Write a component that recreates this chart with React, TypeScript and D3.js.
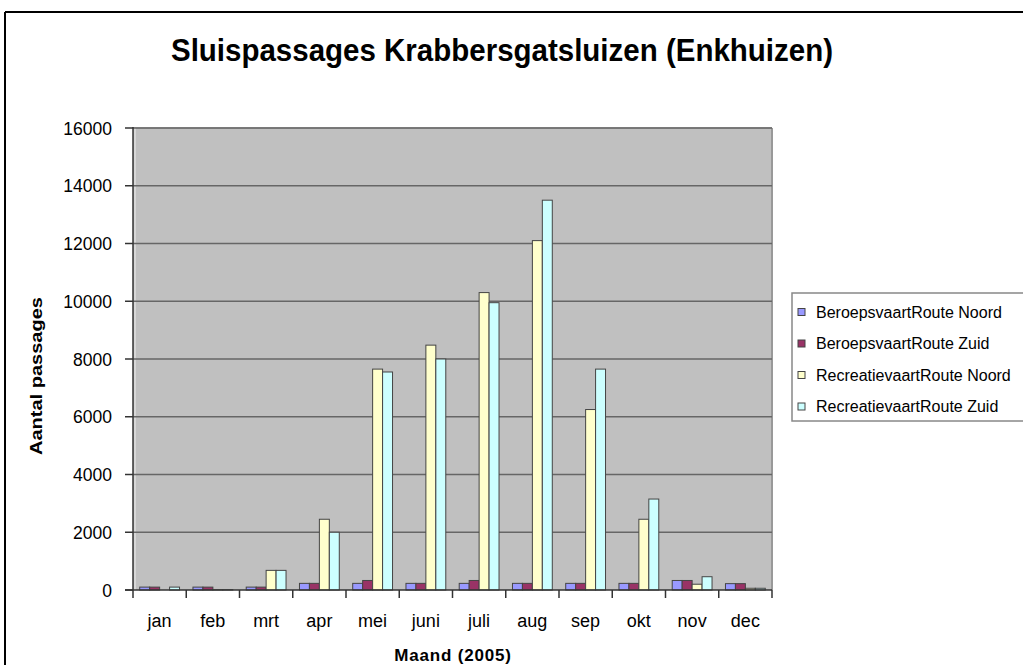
import React from "react";
import * as d3 from "d3";

const months = ["jan", "feb", "mrt", "apr", "mei", "juni", "juli", "aug", "sep", "okt", "nov", "dec"];
const seriesNames = [
  "BeroepsvaartRoute Noord",
  "BeroepsvaartRoute Zuid",
  "RecreatievaartRoute Noord",
  "RecreatievaartRoute Zuid",
];
const beroepsNoord = [100, 100, 100, 230, 230, 230, 230, 230, 230, 230, 330, 220];
const beroepsZuid = [100, 100, 100, 230, 330, 230, 330, 230, 230, 230, 330, 220];
const recreatieNoord = [0, 10, 680, 2450, 7650, 8480, 10300, 12100, 6250, 2450, 200, 60];
const recreatieZuid = [100, 10, 680, 2000, 7550, 8000, 9950, 13500, 7650, 3150, 460, 60];
const yTicks = [0, 2000, 4000, 6000, 8000, 10000, 12000, 14000, 16000];
const colors = ["#9999FF", "#993366", "#FFFFCC", "#CCFFFF"];

const W = 1023;
const H = 665;
const PL = 133, PR = 772, PT = 128, PB = 590;
const FONT = "'Liberation Sans', Arial, sans-serif";

export default function App() {
  const seriesValues = [beroepsNoord, beroepsZuid, recreatieNoord, recreatieZuid];
  const x0 = d3.scaleBand<string>().domain(months).range([PL, PR]).padding(0);
  const x1 = d3
    .scaleBand<string>()
    .domain(seriesNames)
    .range([0, x0.bandwidth()])
    .paddingInner(0)
    .paddingOuter(0.675);
  const y = d3.scaleLinear().domain([0, 16000]).range([PB, PT]);

  return (
    <svg
      width={W}
      height={H}
      style={{ position: "absolute", left: 0, top: 0, background: "#fff" }}
      fontFamily={FONT}
    >
      <rect x={0} y={0} width={W} height={H} fill="#fff" />
      {/* outer frame */}
      <line x1={5} y1={12} x2={W} y2={12} stroke="#000" strokeWidth={2} />
      <line x1={5} y1={12} x2={5} y2={H} stroke="#000" strokeWidth={2} />

      {/* title */}
      <text
        x={502}
        y={61}
        textAnchor="middle"
        fontSize={31}
        fontWeight="bold"
        textLength={662}
        lengthAdjust="spacingAndGlyphs"
      >
        Sluispassages Krabbersgatsluizen (Enkhuizen)
      </text>

      {/* plot area */}
      <rect x={PL} y={PT} width={PR - PL} height={PB - PT} fill="#C0C0C0" />
      <line x1={PL} y1={PT} x2={PR} y2={PT} stroke="#999" strokeWidth={1.5} />
      <line x1={PR} y1={PT} x2={PR} y2={PB} stroke="#999" strokeWidth={2} />
      <line x1={PL + 2} y1={PT} x2={PL + 2} y2={PB} stroke="#eee" strokeWidth={1} />

      {/* gridlines */}
      {yTicks.slice(1).map((t) => (
        <line key={t} x1={PL} x2={PR} y1={y(t)} y2={y(t)} stroke="#666" strokeWidth={1.5} />
      ))}

      {/* bars */}
      {months.map((m, i) => (
        <g key={m} transform={`translate(${x0(m)},0)`}>
          {seriesNames.map((s, j) => {
            const v = seriesValues[j][i];
            return (
              <rect
                key={s}
                x={x1(s)}
                y={y(v)}
                width={x1.bandwidth()}
                height={PB - y(v)}
                fill={colors[j]}
                stroke="#444"
                strokeWidth={1}
              />
            );
          })}
        </g>
      ))}

      {/* axes */}
      <line x1={PL} y1={PT - 1} x2={PL} y2={PB + 8} stroke="#333" strokeWidth={1.5} />
      <line x1={PL - 8} y1={PB} x2={PR} y2={PB} stroke="#333" strokeWidth={1.5} />
      {yTicks.map((t) => (
        <g key={t}>
          <line x1={PL - 8} x2={PL} y1={y(t)} y2={y(t)} stroke="#333" strokeWidth={1.5} />
          <text x={112} y={y(t) + 6.5} textAnchor="end" fontSize={17.5} fill="#000">
            {t}
          </text>
        </g>
      ))}
      {months.map((m) => (
        <line
          key={"t" + m}
          x1={x0(m)! + x0.bandwidth()}
          x2={x0(m)! + x0.bandwidth()}
          y1={PB}
          y2={PB + 8}
          stroke="#333"
          strokeWidth={1.5}
        />
      ))}
      {months.map((m) => (
        <text key={"l" + m} x={x0(m)! + x0.bandwidth() / 2} y={627} textAnchor="middle" fontSize={18}>
          {m}
        </text>
      ))}

      {/* axis titles */}
      <text x={453} y={661} textAnchor="middle" fontSize={17} fontWeight="bold" letterSpacing={0.8}>
        Maand (2005)
      </text>
      <text
        transform={`translate(42,376) rotate(-90)`}
        textAnchor="middle"
        fontSize={17}
        fontWeight="bold"
        textLength={158}
        lengthAdjust="spacingAndGlyphs"
      >
        Aantal passages
      </text>

      {/* legend */}
      <rect x={792} y={293} width={260} height={128} fill="#fff" stroke="#888" strokeWidth={1.5} />
      {seriesNames.map((s, j) => {
        const ly = 312 + j * 31.5;
        return (
          <g key={s}>
            <rect x={798} y={ly - 3.5} width={7} height={7} fill={colors[j]} stroke="#444" strokeWidth={1} />
            <text x={816} y={ly + 5.5} fontSize={16}>
              {s}
            </text>
          </g>
        );
      })}
    </svg>
  );
}
